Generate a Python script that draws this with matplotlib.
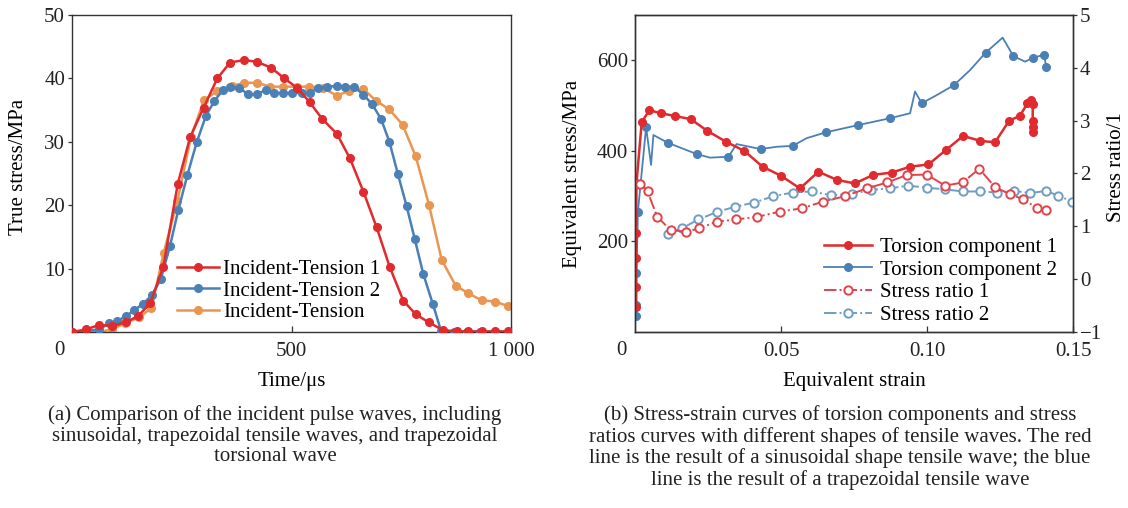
import matplotlib
matplotlib.use('Agg')
import matplotlib.pyplot as plt
from matplotlib.lines import Line2D

plt.rcParams['font.family'] = ['Liberation Serif', 'DejaVu Serif']

# ---------------- (a) incident pulse waves ----------------
tension1_time = [0, 32, 61, 92, 122, 150, 178, 208, 241, 269, 300, 331, 360, 392, 422, 453,
                 484, 513, 542, 570, 603, 633, 664, 694, 724, 755, 783, 813, 845, 877, 903,
                 933, 963, 993]
tension1_stress = [0, 0.4, 1.1, 1.0, 1.5, 2.5, 4.5, 10.3, 23.4, 30.7, 35.4, 40.0, 42.5, 42.9,
                   42.6, 41.7, 40.0, 38.5, 36.2, 33.6, 31.3, 27.4, 22.1, 16.5, 10.2, 4.9, 2.8,
                   1.5, 0.3, 0.1, 0.1, 0.1, 0.1, 0.1]

tension2_time = [0, 62, 85, 102, 123, 141, 161, 182, 202, 223, 242, 263, 284, 305, 324, 343,
                 361, 381, 401, 422, 441, 460, 480, 500, 523, 542, 561, 582, 603, 622, 643,
                 664, 683, 704, 723, 742, 762, 781, 800, 822, 841, 870, 900, 930, 963, 993]
tension2_stress = [0, 0.4, 1.4, 1.7, 2.5, 3.4, 4.4, 5.8, 8.3, 13.5, 19.2, 24.8, 29.9, 34.1,
                   36.4, 38.1, 38.7, 38.5, 37.5, 37.5, 38.2, 37.7, 37.7, 37.7, 37.7, 37.7, 38.5,
                   38.7, 38.8, 38.7, 38.7, 37.4, 36.0, 33.6, 30.0, 25.0, 19.9, 14.6, 9.2, 4.4,
                   0.1, 0, 0, 0, 0, 0]

tension_time = [0, 30, 60, 91, 121, 153, 181, 209, 240, 271, 301, 331, 364, 392, 422, 451, 481,
                512, 540, 571, 603, 631, 664, 692, 723, 753, 783, 813, 842, 874, 903, 933, 963,
                993]
tension_stress = [0, 0, 0, 0.4, 1.4, 2.3, 3.8, 12.5, 20.6, 30.8, 36.6, 38.0, 38.8, 39.3, 39.3,
                  38.7, 38.7, 38.7, 38.7, 38.5, 37.3, 38.0, 38.3, 36.5, 35.1, 32.7, 27.7, 20.1,
                  11.4, 7.3, 6.1, 5.0, 4.8, 4.1]

labels_a = ['Incident-Tension 1', 'Incident-Tension 2', 'Incident-Tension']
xticks_a = [500, 1000]
xticklabels_a = ['500', '1 000']
yticks_a = [10, 20, 30, 40, 50]

# ---------------- (b) stress-strain and stress ratio ----------------
t1_strain = [0.0004, 0.0004, 0.0004, 0.0004, 0.0005, 0.0023, 0.0049, 0.0088, 0.0137, 0.0191,
             0.0248, 0.0312, 0.0374, 0.0437, 0.0500, 0.0565, 0.0628, 0.0691, 0.0753, 0.0816,
             0.0879, 0.0942, 0.1005, 0.1065, 0.1124, 0.1182, 0.1233, 0.1282, 0.1318, 0.1344,
             0.1356, 0.1362, 0.1362, 0.1362, 0.1364]
t1_stress = [56, 100, 163, 218, 328, 463, 490, 483, 477, 470, 444, 420, 400, 365, 345, 317, 354,
             336, 328, 347, 352, 365, 370, 402, 433, 422, 419, 467, 477, 505, 512, 503, 467, 453,
             442]

t2_strain = [0.0004, 0.0004, 0.0005, 0.0010, 0.0038, 0.0055, 0.0063, 0.0112, 0.0211, 0.0257,
             0.0320, 0.0348, 0.0430, 0.0485, 0.0540, 0.0588, 0.0654, 0.0765, 0.0873, 0.0942,
             0.0959, 0.0982, 0.1033, 0.1092, 0.1147, 0.1201, 0.1259, 0.1296, 0.1336, 0.1364,
             0.1401, 0.1408]
t2_stress = [35, 60, 130, 266, 452, 369, 435, 418, 393, 385, 387, 415, 404, 409, 411, 428, 441,
             457, 472, 483, 531, 505, 523, 545, 578, 617, 650, 609, 597, 606, 612, 586]
t2_unmarked = [5, 6, 9, 11, 13, 15, 19, 20, 22, 24, 26, 28]

r1_strain = [0.0005, 0.0017, 0.0043, 0.0076, 0.0122, 0.0175, 0.0220, 0.0280, 0.0346, 0.0419,
             0.0497, 0.0571, 0.0645, 0.0719, 0.0794, 0.0864, 0.0930, 0.0999, 0.1062, 0.1122,
             0.1179, 0.1233, 0.1284, 0.1330, 0.1376, 0.1408]
r1_ratio = [1.81, 1.81, 1.66, 1.18, 0.93, 0.90, 0.96, 1.09, 1.13, 1.18, 1.28, 1.34, 1.47, 1.57,
            1.72, 1.83, 1.97, 1.98, 1.77, 1.83, 2.09, 1.74, 1.61, 1.51, 1.35, 1.31]

r2_strain = [0.0112, 0.0160, 0.0217, 0.0280, 0.0342, 0.0408, 0.0474, 0.0540, 0.0605, 0.0670,
             0.0742, 0.0807, 0.0873, 0.0936, 0.1001, 0.1062, 0.1122, 0.1182, 0.1241, 0.1298,
             0.1353, 0.1408, 0.1450, 0.1496]
r2_ratio = [0.85, 0.96, 1.13, 1.27, 1.37, 1.45, 1.57, 1.64, 1.66, 1.59, 1.61, 1.69, 1.72, 1.77,
            1.73, 1.70, 1.66, 1.66, 1.64, 1.67, 1.63, 1.67, 1.58, 1.47]

labels_b = ['Torsion component 1', 'Torsion component 2', 'Stress ratio 1', 'Stress ratio 2']
xticks_b = [0.05, 0.10, 0.15]
xticklabels_b = ['0.05', '0.10', '0.15']
yticks_b = [200, 400, 600]
yticks_b2 = [-1, 0, 1, 2, 3, 4, 5]

caption_a = ('(a) Comparison of the incident pulse waves, including\n'
             'sinusoidal, trapezoidal tensile waves, and trapezoidal\n'
             'torsional wave')
caption_b = ('(b) Stress-strain curves of torsion components and stress\n'
             'ratios curves with different shapes of tensile waves. The red\n'
             'line is the result of a sinusoidal shape tensile wave; the blue\n'
             'line is the result of a trapezoidal tensile wave')

# ---------------- styling ----------------
RED = '#e02a2e'
BLUE = '#4a80b6'
ORANGE = '#ea9550'
RED2 = '#e2434b'
BLUE2 = '#6f9dc3'
SPINE = '#333333'
TXT = '#222222'
FS_TICK = 15
FS_LABEL = 15
FS_LEG = 15
FS_CAP = 15

W, H = 1128, 508
fig = plt.figure(figsize=(W / 100, H / 100), dpi=100)


def rect(x0, y0, x1, y1):
    return [x0 / W, 1 - y1 / H, (x1 - x0) / W, (y1 - y0) / H]


def style_axes(a):
    for s in a.spines.values():
        s.set_color(SPINE)
        s.set_linewidth(1.0)
    a.tick_params(axis='x', direction='in', length=4, width=0.9, colors=SPINE,
                  labelsize=FS_TICK, labelcolor=TXT, pad=7)
    a.tick_params(axis='y', direction='out', length=3, width=0.9, colors=SPINE,
                  labelsize=FS_TICK, labelcolor=TXT, pad=2)


# ---- panel (a)
ax = fig.add_axes(rect(72, 15, 511, 332))
ax.plot(tension_time, tension_stress, '-o', color=ORANGE, lw=1.8, ms=5.5, zorder=2)
ax.plot(tension2_time, tension2_stress, '-o', color=BLUE, lw=1.8, ms=5.5, zorder=3)
ax.plot(tension1_time, tension1_stress, '-o', color=RED, lw=1.8, ms=5.5, zorder=4)
ax.set_xlim(0, 1000)
ax.set_ylim(0, 50)
ax.set_xticks(xticks_a)
ax.set_xticklabels(xticklabels_a)
ax.set_yticks(yticks_a)
style_axes(ax)
ax.text(-0.028, -0.058, '0', transform=ax.transAxes, ha='center', va='center',
        fontsize=FS_TICK, color=TXT)
ax.set_xlabel('Time/μs', fontsize=FS_LABEL)
ax.xaxis.set_label_coords(0.5, -0.125)
ax.set_ylabel('True stress/MPa', fontsize=FS_LABEL)
ax.yaxis.set_label_coords(-0.100, 0.52)
handles_a = [Line2D([], [], color=c, marker='o', lw=1.8, ms=5.5) for c in (RED, BLUE, ORANGE)]
ax.legend(handles_a, labels_a, loc='upper left', bbox_to_anchor=(0.239, 0.229),
          frameon=False, fontsize=FS_LEG, handlelength=2.0, handletextpad=0.2,
          labelspacing=0.1, borderpad=0, borderaxespad=0)

# ---- panel (b)
bx = fig.add_axes(rect(635, 15, 1073, 332))
t2_marked_idx = [i for i in range(len(t2_strain)) if i not in t2_unmarked]
bx.plot(t2_strain, t2_stress, '-', color=BLUE, lw=1.3, zorder=2)
bx.plot(t2_strain, t2_stress, 'o', color=BLUE, ms=5.5, markevery=t2_marked_idx, zorder=2)
bx.plot(t1_strain, t1_stress, '-o', color=RED, lw=1.8, ms=5.5, zorder=3)
bx.set_xlim(0, 0.15)
bx.set_ylim(0, 700)
bx.set_xticks(xticks_b)
bx.set_xticklabels(xticklabels_b)
bx.set_yticks(yticks_b)
style_axes(bx)
bx.text(-0.032, -0.058, '0', transform=bx.transAxes, ha='center', va='center',
        fontsize=FS_TICK, color=TXT)
bx.set_xlabel('Equivalent strain', fontsize=FS_LABEL)
bx.xaxis.set_label_coords(0.5, -0.125)
bx.set_ylabel('Equivalent stress/MPa', fontsize=FS_LABEL)
bx.yaxis.set_label_coords(-0.12, 0.5)

bx2 = bx.twinx()
bx2.plot(r2_strain, r2_ratio, '-.', color=BLUE2, lw=1.4, marker='o', ms=6,
         mfc='white', mec=BLUE2, mew=1.4)
bx2.plot(r1_strain, r1_ratio, '-.', color=RED2, lw=1.4, marker='o', ms=6,
         mfc='white', mec=RED2, mew=1.4)
bx2.set_ylim(-1, 5)
bx2.set_yticks(yticks_b2)
style_axes(bx2)
bx2.set_ylabel('Stress ratio/1', fontsize=FS_LABEL)
bx2.yaxis.set_label_coords(1.078, 0.52)

handles_b = [Line2D([], [], color=RED, marker='o', lw=1.8, ms=5.5),
             Line2D([], [], color=BLUE, marker='o', lw=1.3, ms=5.5),
             Line2D([], [], color=RED2, marker='o', ls='-.', lw=1.4, ms=6, mfc='white', mew=1.4),
             Line2D([], [], color=BLUE2, marker='o', ls='-.', lw=1.4, ms=6, mfc='white', mew=1.4)]
bx2.legend(handles_b, labels_b, loc='upper left', bbox_to_anchor=(0.431, 0.299),
           frameon=False, fontsize=FS_LEG, handlelength=2.3, handletextpad=0.4,
           labelspacing=0.15, borderpad=0, borderaxespad=0)

# ---- captions
fig.text(275 / W, 1 - 405 / H, caption_a, ha='center', va='top', fontsize=FS_CAP,
         linespacing=1.12, color=TXT)
fig.text(840 / W, 1 - 405 / H, caption_b, ha='center', va='top', fontsize=FS_CAP,
         linespacing=1.12, color=TXT)

fig.savefig('out.png', dpi=100)
